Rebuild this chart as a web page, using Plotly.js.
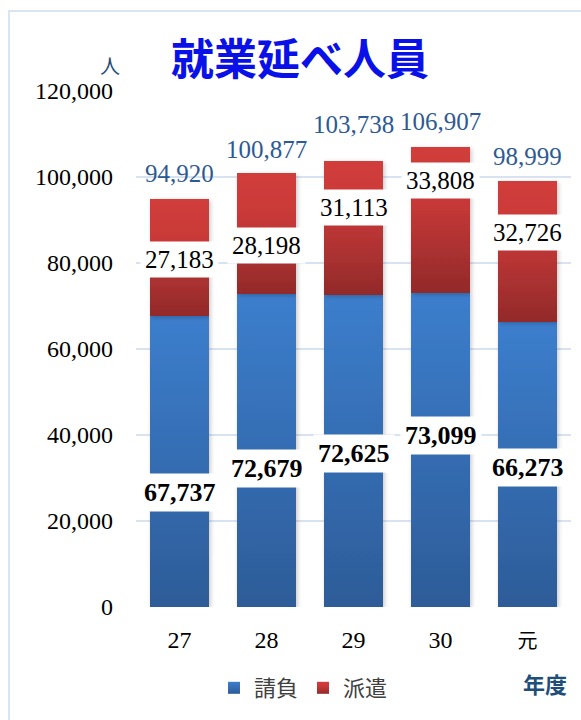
<!DOCTYPE html>
<html>
<head>
<meta charset="utf-8">
<script src="https://cdn.plot.ly/plotly-3.0.1.min.js"></script>
<style>
  html, body { margin: 0; padding: 0; background: #fff; }
  #wrap { position: relative; width: 581px; height: 720px; overflow: hidden; }
  #chart { position: absolute; left: 0; top: 0; width: 581px; height: 720px; }
  #frame { position: absolute; left: 8px; top: 10px; width: 620px; height: 760px;
           border: 2px solid #DAE5F3; pointer-events: none; box-sizing: border-box; }
</style>
</head>
<body>
<svg width="0" height="0" style="position:absolute">
  <defs>
    <linearGradient id="gBlue" x1="0" y1="0" x2="0" y2="1">
      <stop offset="0" stop-color="#3C7ECD"/>
      <stop offset="1" stop-color="#2D5C98"/>
    </linearGradient>
    <linearGradient id="gRed" x1="0" y1="0" x2="0" y2="1">
      <stop offset="0" stop-color="#D13D3B"/>
      <stop offset="0.35" stop-color="#C93938"/>
      <stop offset="1" stop-color="#922A2A"/>
    </linearGradient>
    <filter id="shadow" x="-20%" y="-5%" width="140%" height="115%">
      <feDropShadow dx="1.5" dy="1.5" stdDeviation="2" flood-color="#000" flood-opacity="0.22"/>
    </filter>
  </defs>
</svg>
<div id="wrap">
  <div id="chart"></div>
  <div id="frame"></div>
</div>
<script>
// ---- data ----
const years = ['27', '28', '29', '30', '元'];
const ukeoi = [67737, 72679, 72625, 73099, 66273];   // 請負
const haken = [27183, 28198, 31113, 33808, 32726];   // 派遣
const seriesNames = ['請負', '派遣'];

// label placement (data units on the y axis)
const ukeoiLabelY = [26700, 32300, 35800, 40000, 32500];
const hakenLabelY = [80700, 84100, 93000, 99300, 87200];
const totalLabelY = [100700, 106300, 112100, 112800, 104700];

const totals = ukeoi.map((v, i) => v + haken[i]);
const fmt = v => v.toLocaleString('en-US');

const numFont = 'Liberation Serif, Times New Roman, serif';

const data = [
  { type: 'bar', name: seriesNames[0], x: years, y: ukeoi,
    marker: { color: '#3670B8' }, hoverinfo: 'none' },
  { type: 'bar', name: seriesNames[1], x: years, y: haken,
    marker: { color: '#C03634' }, hoverinfo: 'none' }
];

const annotations = [];
years.forEach((yr, i) => {
  annotations.push({ x: i, y: ukeoiLabelY[i], xref: 'x', yref: 'y', text: fmt(ukeoi[i]),
    showarrow: false, bgcolor: '#ffffff', borderpad: 4,
    font: { family: numFont, size: 26, color: '#000', weight: 'bold' } });
  annotations.push({ x: i, y: hakenLabelY[i], xref: 'x', yref: 'y', text: fmt(haken[i]),
    showarrow: false, bgcolor: '#ffffff', borderpad: 4,
    font: { family: numFont, size: 25, color: '#000' } });
  annotations.push({ x: i, y: totalLabelY[i], xref: 'x', yref: 'y', text: fmt(totals[i]),
    showarrow: false,
    font: { family: numFont, size: 25, color: '#2E5A94' } });
});
annotations.push({ xref: 'paper', yref: 'paper', x: -0.06, y: 1.05, xanchor: 'center', yanchor: 'middle',
  text: '人', showarrow: false, font: { family: 'Noto Sans CJK JP', size: 20, color: '#1F4E79' } });
annotations.push({ xref: 'paper', yref: 'paper', x: 0.94, y: -0.147, xanchor: 'center', yanchor: 'middle',
  text: '年度', showarrow: false, font: { family: 'Noto Sans CJK JP', size: 22, color: '#1F4E79', weight: 'bold' } });

const tickText = years.map(y => /^\d+$/.test(y) ? y : '<span style="font-size:20px">' + y + '</span>');

const layout = {
  width: 581, height: 720,
  margin: { l: 136, r: 10, t: 91, b: 113 },
  paper_bgcolor: 'rgba(0,0,0,0)',
  plot_bgcolor: 'rgba(0,0,0,0)',
  barmode: 'stack',
  bargap: 0.32,
  showlegend: true,
  title: { text: '就業延べ人員', x: 300 / 581, xref: 'container', xanchor: 'center', y: 0.917, yref: 'container', yanchor: 'middle',
    font: { family: 'Noto Sans CJK JP', size: 43, color: '#0A10E8', weight: 'bold' } },
  xaxis: { type: 'category', range: [-0.5, 4.5], autorange: false, showgrid: false, zeroline: false, showline: false,
    ticks: '', ticklabelstandoff: 16, tickangle: 0,
    tickmode: 'array', tickvals: years, ticktext: tickText,
    tickfont: { family: numFont + ', Noto Sans CJK JP', size: 24, color: '#000' } },
  yaxis: { range: [0, 120000], autorange: false, dtick: 20000, tickformat: ',d',
    showgrid: true, gridcolor: '#D8E3F2', gridwidth: 1.5, zeroline: false, showline: false,
    ticks: '', ticklabelstandoff: 22,
    tickfont: { family: numFont, size: 24, color: '#000' } },
  legend: { orientation: 'h', x: 0.385, xanchor: 'center', y: -0.157, yanchor: 'middle',
    traceorder: 'normal', itemwidth: 30,
    font: { family: 'Noto Sans CJK JP', size: 22, color: '#404040' } },
  annotations: annotations
};

Plotly.newPlot('chart', data, layout, { staticPlot: true, displayModeBar: false }).then(gd => {
  const grads = ['url(#gBlue)', 'url(#gRed)'];
  gd.querySelectorAll('.barlayer .trace').forEach((tr, i) => {
    tr.querySelectorAll('path').forEach(p => {
      p.style.fill = grads[i];
      p.style.filter = 'url(#shadow)';
    });
  });
  gd.querySelectorAll('.legend .traces').forEach((tr, i) => {
    tr.querySelectorAll('.legendpoints path').forEach(p => { p.style.fill = grads[i]; });
  });
});
</script>
</body>
</html>
